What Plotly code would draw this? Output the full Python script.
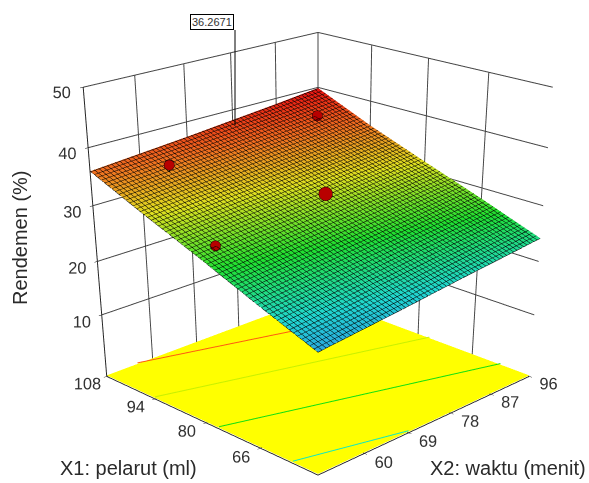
import plotly.graph_objects as go

x1_vals = [52, 66, 80, 94, 108]
x2_vals = [51, 60, 69, 78, 87, 96]
rendemen = [
    [19.6, 20.5, 21.4, 22.4, 23.3, 24.2],
    [23.6, 24.5, 25.4, 26.3, 27.2, 28.1],
    [27.8, 28.6, 29.4, 30.2, 31.0, 31.8],
    [31.8, 32.6, 33.3, 34.1, 34.8, 35.6],
    [36.0, 36.7, 37.4, 38.2, 39.0, 39.9],
]
x1_ticks = [66, 80, 94, 108]
x2_ticks = [60, 69, 78, 87, 96]
z_ticks = [10, 20, 30, 40, 50]

pts_x1 = [100, 100, 80, 80]
pts_x2 = [60, 89.4, 75, 54]
pts_z = [36.4, 37.8, 31.7, 28.9]
pts_surface = [35.2, 37.6, 31.5, 28.7]
pts_size = [6, 6, 8, 6]

contour_names = ["35", "30", "25", "20"]
contour_x1 = [[108, 93], [94, 77], [76.6, 59], [58, 52]]
contour_x2 = [[57, 96], [51, 96], [51, 96], [51, 69]]
contour_colors = ["#ff5a10", "#c8f000", "#10e010", "#10e8c0"]

floor_z = [[-1.8, -1.8], [-1.8, -1.8]]

W, H = 636, 1300
def px(v): return v / W
def py(v): return 1 - v / H

fig = go.Figure()
fig.add_trace(go.Surface(x=[51, 96], y=[52, 108], z=floor_z, showscale=False,
                         colorscale=[[0, "#ffff00"], [1, "#ffff00"]],
                         lighting=dict(ambient=1, diffuse=0, specular=0, fresnel=0),
                         hoverinfo="skip"))
for n, a, b, c in zip(contour_names, contour_x1, contour_x2, contour_colors):
    fig.add_trace(go.Scatter3d(x=b, y=a, z=[-1.6, -1.6], mode="lines",
                               line=dict(color=c, width=2), name=n, showlegend=False))
fig.add_trace(go.Surface(
    x=x2_vals, y=x1_vals, z=rendemen, showscale=False, cmin=19.6, cmax=39.9,
    colorscale=[[0, "#2aa8e0"], [0.12, "#20d8d0"], [0.35, "#20e030"], [0.6, "#e0e020"],
                [0.8, "#f07020"], [1, "#e81010"]],
    lighting=dict(ambient=1, diffuse=0, specular=0, fresnel=0),
    contours=dict(
        x=dict(show=True, start=51, end=96, size=0.75, color="#000000", width=1),
        y=dict(show=True, start=52, end=108, size=0.93, color="#000000", width=1),
    ),
))
for a, b, z, s, size in zip(pts_x1, pts_x2, pts_z, pts_surface, pts_size):
    fig.add_trace(go.Scatter3d(x=[b, b], y=[a, a], z=[s, z], mode="lines",
                               line=dict(color="#000000", width=1.5), showlegend=False))
    fig.add_trace(go.Scatter3d(x=[b], y=[a], z=[z], mode="markers", showlegend=False,
                               marker=dict(size=size, color="#b80000",
                                           line=dict(color="#200000", width=1))))

ax = dict(showgrid=True, gridcolor="#444444", gridwidth=2, showbackground=False,
          zeroline=False, showline=True, linecolor="#222222", linewidth=2,
          ticks="outside", ticklen=3, tickcolor="#000000", showspikes=False, tickangle=0,
          tickfont=dict(family="Liberation Sans", size=14, color="#333333"), title=dict(text=""))
text = dict(family="Liberation Sans", size=20, color="#2a2a2a")
common = dict(xref="paper", yref="paper", xanchor="center", yanchor="middle", showarrow=False)
fig.update_layout(
    width=W, height=H, margin=dict(l=0, r=0, t=0, b=0), paper_bgcolor="white",
    showlegend=False,
    scene=dict(
        domain=dict(x=[0, 1], y=[0, 1]),
        xaxis=dict(ax, range=[51, 96], tickvals=x2_ticks),
        yaxis=dict(ax, range=[52, 108], tickvals=x1_ticks),
        zaxis=dict(ax, range=[-2, 50], tickvals=z_ticks),
        aspectmode="manual", aspectratio=dict(x=1, y=1, z=0.94),
        camera=dict(eye=dict(x=-3.44, y=-3.44, z=1.71), center=dict(x=0, y=0, z=-1.575),
                    projection=dict(type="perspective")),
    ),
    annotations=[
        dict(common, text="Rendemen (%)", x=px(20), y=py(238), textangle=-90, font=text),
        dict(common, text="X1: pelarut (ml)", x=px(128), y=py(468), font=text),
        dict(common, text="X2: waktu (menit)", x=px(508), y=py(468), font=text),
        dict(common, text="36.2671", x=px(212), y=py(22),
             bgcolor="white", bordercolor="#000000", borderwidth=1, borderpad=1,
             font=dict(family="Liberation Sans", size=11, color="#333333")),
    ],
    shapes=[dict(type="line", xref="paper", yref="paper", x0=px(235), x1=px(235),
                 y0=py(30), y1=py(125), line=dict(color="#000000", width=1))],
)
fig.write_html("out.html", default_width=f"{W}px", default_height=f"{H}px",
               config={"displayModeBar": False},
               post_script="document.body.style.margin='0';")
